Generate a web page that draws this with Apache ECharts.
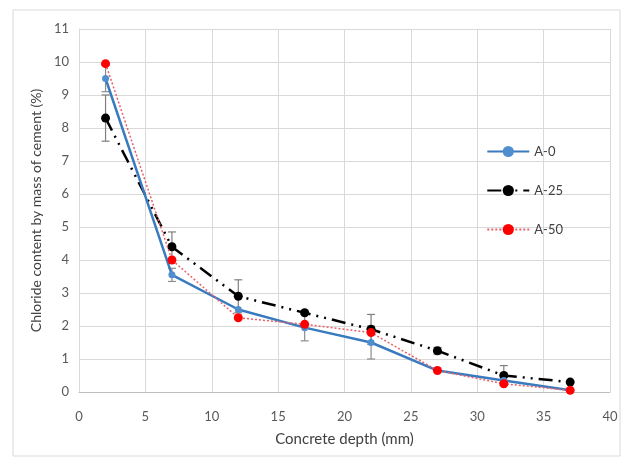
<!DOCTYPE html>
<html><head><meta charset="utf-8">
<script src="https://cdn.jsdelivr.net/npm/echarts@6/dist/echarts.min.js"></script>
<style>html,body{margin:0;padding:0;background:#fff}#c{width:630px;height:459px}</style>
</head><body><div id="c"></div>
<script>
const depth = [2, 7, 12, 17, 22, 27, 32, 37];
const seriesNames = ['A-0', 'A-25', 'A-50'];
const a0 = [9.5, 3.55, 2.5, 1.95, 1.5, 0.65, 0.35, 0.05];
const a25 = [8.3, 4.4, 2.9, 2.4, 1.9, 1.25, 0.5, 0.3];
const a50 = [9.95, 4.0, 2.25, 2.05, 1.8, 0.65, 0.25, 0.05];
// error bars: [depth, low, high]
const errA0 = [[2, 9.1, 9.9], [7, 3.35, 3.75], [17, 1.55, 2.35], [22, 1.0, 2.0]];
const errA25 = [[2, 7.6, 9.0], [7, 3.95, 4.85], [12, 2.4, 3.4], [22, 1.45, 2.35], [27, 1.15, 1.35], [32, 0.2, 0.8]];
const xTicks = [0, 5, 10, 15, 20, 25, 30, 35, 40];
const yTicks = [0, 1, 2, 3, 4, 5, 6, 7, 8, 9, 10, 11];

const font = 'Lato, "Open Sans", sans-serif';
function errSeries(data, color) {
  return {
    type: 'custom', silent: true, z: 1,
    data: data,
    renderItem: function (params, api) {
      const x = api.value(0);
      const lo = api.coord([x, api.value(1)]);
      const hi = api.coord([x, api.value(2)]);
      const w = 4;
      const st = { stroke: color, lineWidth: 1.2 };
      return { type: 'group', children: [
        { type: 'line', shape: { x1: lo[0], y1: lo[1], x2: hi[0], y2: hi[1] }, style: st },
        { type: 'line', shape: { x1: lo[0] - w, y1: lo[1], x2: lo[0] + w, y2: lo[1] }, style: st },
        { type: 'line', shape: { x1: hi[0] - w, y1: hi[1], x2: hi[0] + w, y2: hi[1] }, style: st }
      ]};
    }
  };
}
const chart = echarts.init(document.getElementById('c'));
chart.setOption({
  animation: false,
  backgroundColor: '#fff',
  graphic: [{ type: 'rect', shape: { x: 13, y: 10, width: 607, height: 446 }, style: { fill: 'none', stroke: '#d9d9d9', lineWidth: 1 }, silent: true }],
  grid: { left: 79, right: 20, top: 29, bottom: 67 },
  legend: {
    orient: 'vertical', right: 62, top: 140, itemGap: 26, itemWidth: 42, itemHeight: 14,
    data: seriesNames,
    textStyle: { fontFamily: font, fontSize: 13, color: '#404040' }
  },
  xAxis: {
    type: 'value', min: 0, max: 40, interval: 5,
    name: 'Concrete depth (mm)', nameLocation: 'middle', nameGap: 40,
    nameTextStyle: { fontFamily: font, fontSize: 15, color: '#404040' },
    axisLine: { lineStyle: { color: '#bfbfbf' } },
    axisTick: { show: false },
    axisLabel: { fontFamily: font, fontSize: 13, color: '#595959', margin: 18,
      formatter: v => xTicks.includes(v) ? String(v) : '' },
    splitLine: { show: true, lineStyle: { color: '#d9d9d9' } }
  },
  yAxis: {
    type: 'value', min: 0, max: 11, interval: 1,
    name: 'Chloride content by mass of cement (%)', nameLocation: 'middle', nameGap: 34,
    nameTextStyle: { fontFamily: font, fontSize: 14, color: '#404040' },
    axisLine: { show: true, lineStyle: { color: '#d9d9d9' } },
    axisTick: { show: false },
    axisLabel: { fontFamily: font, fontSize: 13, color: '#595959', margin: 10,
      formatter: v => yTicks.includes(v) ? String(v) : '' },
    splitLine: { show: true, lineStyle: { color: '#d9d9d9' } }
  },
  series: [
    errSeries(errA0, '#8c8c8c'),
    errSeries(errA25, '#7f7f7f'),
    { name: 'A-0', type: 'line', data: depth.map((d, i) => [d, a0[i]]), z: 3,
      symbol: 'circle', symbolSize: 7,
      lineStyle: { color: '#3a7bbf', width: 2.5 },
      itemStyle: { color: '#4f8fd0' } },
    { name: 'A-25', type: 'line', data: depth.map((d, i) => [d, a25[i]]), z: 2,
      symbol: 'circle', symbolSize: 9,
      lineStyle: { color: '#000', width: 2.5, type: [14, 6, 2, 6, 2, 6] },
      itemStyle: { color: '#000' } },
    { name: 'A-50', type: 'line', data: depth.map((d, i) => [d, a50[i]]), z: 4,
      symbol: 'circle', symbolSize: 9,
      lineStyle: { color: '#e8606a', width: 1.5, type: [2, 2] },
      itemStyle: { color: '#ff0000' } }
  ]
});
</script></body></html>
